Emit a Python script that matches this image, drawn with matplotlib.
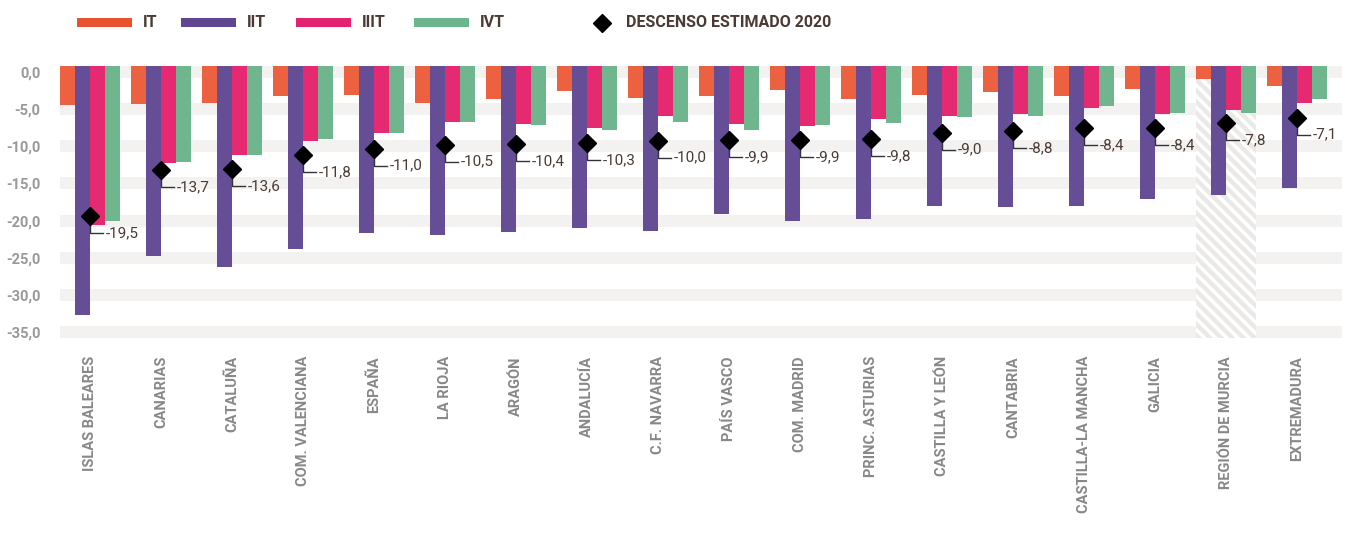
import numpy as np
import matplotlib
matplotlib.use("Agg")
import matplotlib.pyplot as plt
from matplotlib.patches import Rectangle
from matplotlib.lines import Line2D

plt.rcParams['font.family'] = ['Roboto', 'DejaVu Sans']
plt.rcParams['hatch.linewidth'] = 2.5

regions = ["ISLAS BALEARES", "CANARIAS", "CATALUÑA", "COM. VALENCIANA", "ESPAÑA",
           "LA RIOJA", "ARAGÓN", "ANDALUCÍA", "C.F. NAVARRA", "PAÍS VASCO",
           "COM. MADRID", "PRINC. ASTURIAS", "CASTILLA Y LEÓN", "CANTABRIA",
           "CASTILLA-LA MANCHA", "GALICIA", "REGIÓN DE MURCIA", "EXTREMADURA"]

q1 = [-5.5, -5.4, -5.3, -4.4, -4.2, -5.3, -4.8, -3.7, -4.6, -4.4,
      -3.6, -4.8, -4.2, -3.9, -4.4, -3.5, -2.2, -3.1]
q2 = [-32.0, -24.6, -25.9, -23.7, -21.7, -21.9, -21.5, -21.0, -21.4, -19.3,
      -20.1, -19.9, -18.2, -18.4, -18.2, -17.4, -16.9, -16.0]
q3 = [-20.7, -12.8, -11.8, -10.1, -9.1, -7.7, -7.9, -8.4, -6.9, -7.9,
      -8.2, -7.3, -6.9, -6.6, -5.9, -6.6, -6.1, -5.3]
q4 = [-20.1, -12.7, -11.8, -9.8, -9.1, -7.7, -8.0, -8.7, -7.7, -8.7,
      -8.0, -7.8, -7.0, -6.9, -5.6, -6.5, -6.5, -4.8]
estimate = [-19.5, -13.7, -13.6, -11.8, -11.0, -10.5, -10.4, -10.3, -10.0, -9.9,
            -9.9, -9.8, -9.0, -8.8, -8.4, -8.4, -7.8, -7.1]

series_names = ["IT", "IIT", "IIIT", "IVT"]
series_colors = ["#ec6240", "#664e96", "#e52a72", "#6fb68e"]
legend_colors = ["#e8522e", "#5e4790", "#e42272", "#6db68d"]
axis_ticks = [0, -5, -10, -15, -20, -25, -30, -35]
hatched = "REGIÓN DE MURCIA"

W, H = 1345, 539
fig = plt.figure(figsize=(W / 100, H / 100), dpi=100)
ax = fig.add_axes([60 / W, 1 - 338 / H, (1342 - 60) / W, (338 - 66) / H])
ax2 = ax.twinx()

bw = 15 / 71
x = np.arange(len(regions))

# grey bands behind each tick
for t in axis_ticks:
    ax.axhspan(t - 1.6, t, color="#f3f2f0", lw=0, zorder=0)
ax.set_ylim(-36.6, 0)
ax.set_xlim(-2 * bw, len(regions) - 1 + 3 * bw)

# provisional data region
k = regions.index(hatched)
ax.axvspan(k - 2 * bw, k + 2 * bw, facecolor="#eae9e7", edgecolor="white",
           hatch="\\\\\\", lw=0, zorder=1)

ax.set_yticks([t - 0.8 for t in axis_ticks])
ax.set_yticklabels([f"{t:.1f}".replace(".", ",") for t in axis_ticks],
                   fontsize=10.5, fontweight="bold", color="#999999")
ax.tick_params(axis="y", length=0, pad=14)
ax.set_xticks(x)
ax.set_xticklabels(regions, rotation=90, fontsize=10.5, fontweight="bold",
                   color="#888888", va="top")
ax.tick_params(axis="x", length=0, pad=13)
for s in ax.spines.values():
    s.set_visible(False)

# bars and estimate on data axis
for j, vals in enumerate([q1, q2, q3, q4]):
    ax2.bar(x + (j - 1.5) * bw, vals, width=bw, color=series_colors[j],
            lw=0, zorder=2)

ax2.plot(x, estimate, "D", color="black", ms=9, zorder=5, ls="none")
for xi, v in zip(x, estimate):
    ax2.plot([xi, xi, xi + 0.18], [v, v - 2.15, v - 2.15], color="#333333",
             lw=1, zorder=4)
    ax2.text(xi + 0.22, v - 2.15, f"{v:.1f}".replace(".", ","), fontsize=11,
             color="#4a3a33", va="center", ha="left", zorder=6)

ax2.set_ylim(-34.89, -0.59)
ax2.set_yticks([])
for s in ax2.spines.values():
    s.set_visible(False)

# legend
ly = 1 - 22.5 / H
for name, c, px in zip(series_names, legend_colors, [77, 181, 296, 414]):
    fig.add_artist(Rectangle((px / W, ly - 4.5 / H), 55 / W, 9 / H,
                             transform=fig.transFigure, color=c, lw=0))
    fig.text((px + 66) / W, ly, name, fontsize=11.5, fontweight="bold",
             color="#4a3a33", va="center")
fig.add_artist(Line2D([602 / W], [ly], marker="D", color="black", ms=9.5,
                      transform=fig.transFigure))
fig.text(626 / W, ly, "DESCENSO ESTIMADO 2020", fontsize=11.5,
         fontweight="bold", color="#4a3a33", va="center")

fig.savefig("out.png", dpi=100)
